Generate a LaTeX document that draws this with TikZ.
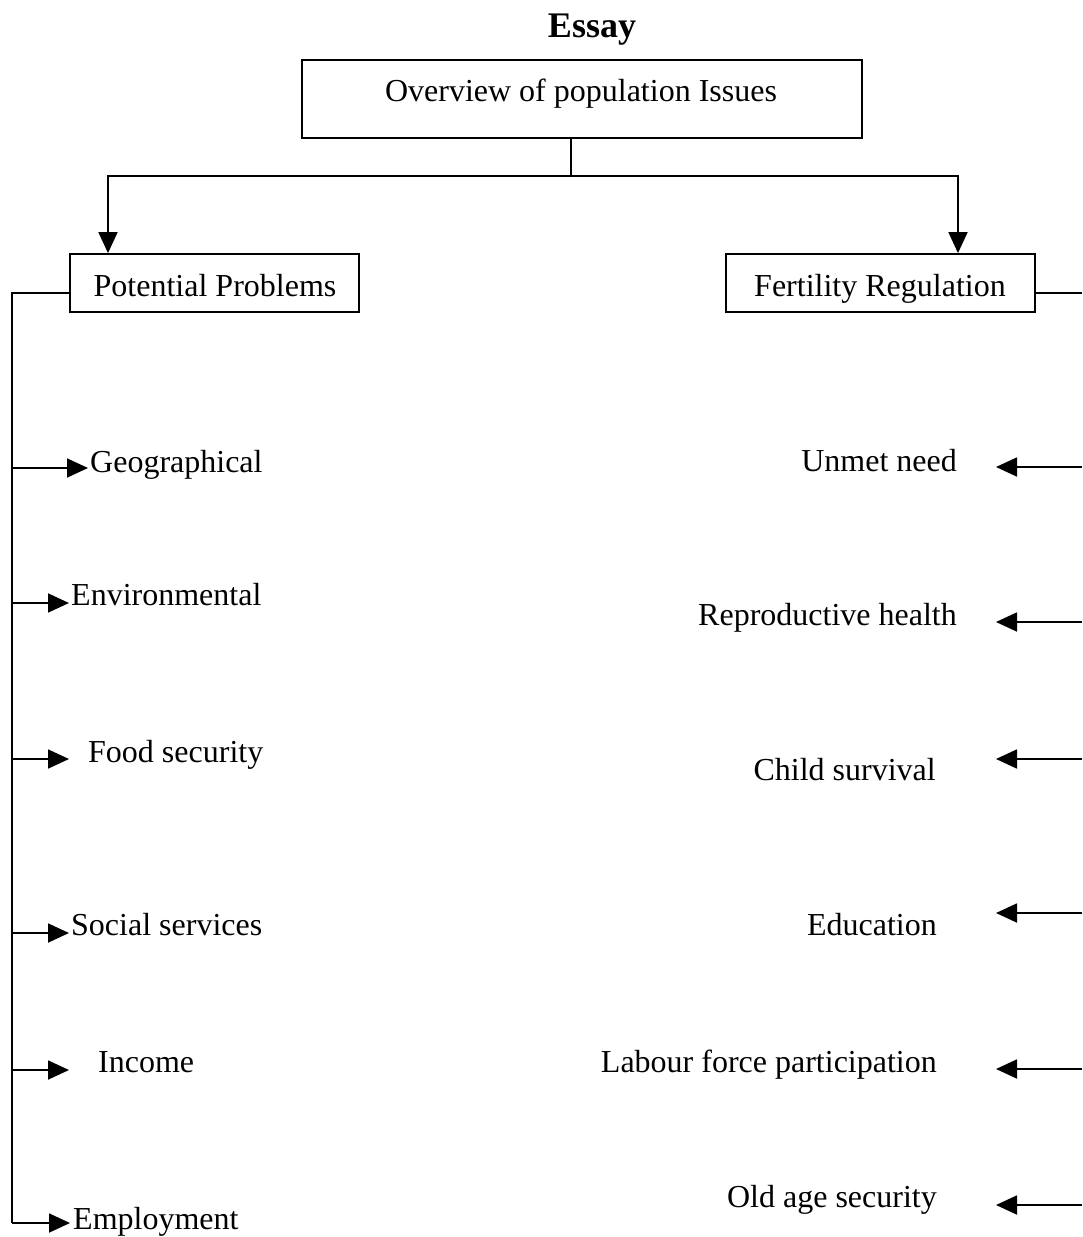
\documentclass[tikz,border=0pt]{standalone}
\usepackage{fontspec}
\setmainfont{Liberation Serif}
\usetikzlibrary{arrows.meta}
\begin{document}
\begin{tikzpicture}[x=1pt,y=-1pt,
  every node/.style={inner sep=0pt,font=\fontsize{32}{38}\selectfont},
  box/.style={draw,line width=1.8pt,minimum height=58pt},
  lbl/.style={anchor=base west},
  rlbl/.style={anchor=base east},
  conn/.style={line width=1.8pt},
  arr/.style={line width=1.8pt,-{Triangle[length=21pt,width=19pt]}}]
\useasboundingbox (0,0) rectangle (1082,1237);
% title
\node[anchor=base,font=\fontsize{36}{42}\selectfont\bfseries] (title) at (592,37) {Essay};
% boxes
\node[draw,line width=1.8pt,minimum width=560pt,minimum height=78pt] (top) at (582,99) {};
\node[anchor=base] (toptxt) at (581,101) {Overview of population Issues};
\node[box,minimum width=289pt] (pp) at (214.5,283) {};
\node[anchor=base] (pptxt) at (215,296) {Potential Problems};
\node[box,minimum width=309pt] (fr) at (880.5,283) {};
\node[anchor=base] (frtxt) at (880,296) {Fertility Regulation};
% top connectors
\coordinate (j) at (571,176);
\draw[conn] (top.south -| j) -- (j);
\draw[arr] (j) -| (pp.north -| 108,0);
\draw[arr] (j) -| (fr.north -| 958,0);
% left spine
\coordinate (ls) at (12,293);
\coordinate (le) at (12,1223);
\draw[conn] (pp.west |- ls) -- (ls) -- (le);
% left labels
\node[lbl] (geo) at (90,472) {Geographical};
\node[lbl] (env) at (71,605) {Environmental};
\node[lbl] (food) at (88,762) {Food security};
\node[lbl] (soc) at (71,935) {Social services};
\node[lbl] (inc) at (98,1072) {Income};
\node[lbl] (emp) at (73,1229) {Employment};
\coordinate (tgeo) at (88,468);
\coordinate (tenv) at (69,603);
\coordinate (tfood) at (69,759);
\coordinate (tsoc) at (69,933);
\coordinate (tinc) at (69,1070);
\coordinate (temp) at (70,1223);
\foreach \t in {tgeo,tenv,tfood,tsoc,tinc,temp}
  \draw[arr] (ls |- \t) -- (\t);
% right side
\coordinate (rs) at (1082,293);
\draw[conn] (fr.east |- rs) -- (rs);
\node[rlbl] (unmet) at (957,471) {Unmet need};
\node[rlbl] (repro) at (957,625) {Reproductive health};
\node[rlbl] (child) at (936,780) {Child survival};
\node[rlbl] (edu) at (937,935) {Education};
\node[rlbl] (lab) at (937,1072) {Labour force participation};
\node[rlbl] (old) at (937,1207) {Old age security};
\coordinate (tunmet) at (996,467);
\coordinate (trepro) at (996,622);
\coordinate (tchild) at (996,759);
\coordinate (tedu) at (996,913);
\coordinate (tlab) at (996,1069);
\coordinate (told) at (996,1205);
\foreach \t in {tunmet,trepro,tchild,tedu,tlab,told}
  \draw[arr] (rs |- \t) -- (\t);
\end{tikzpicture}
\end{document}
